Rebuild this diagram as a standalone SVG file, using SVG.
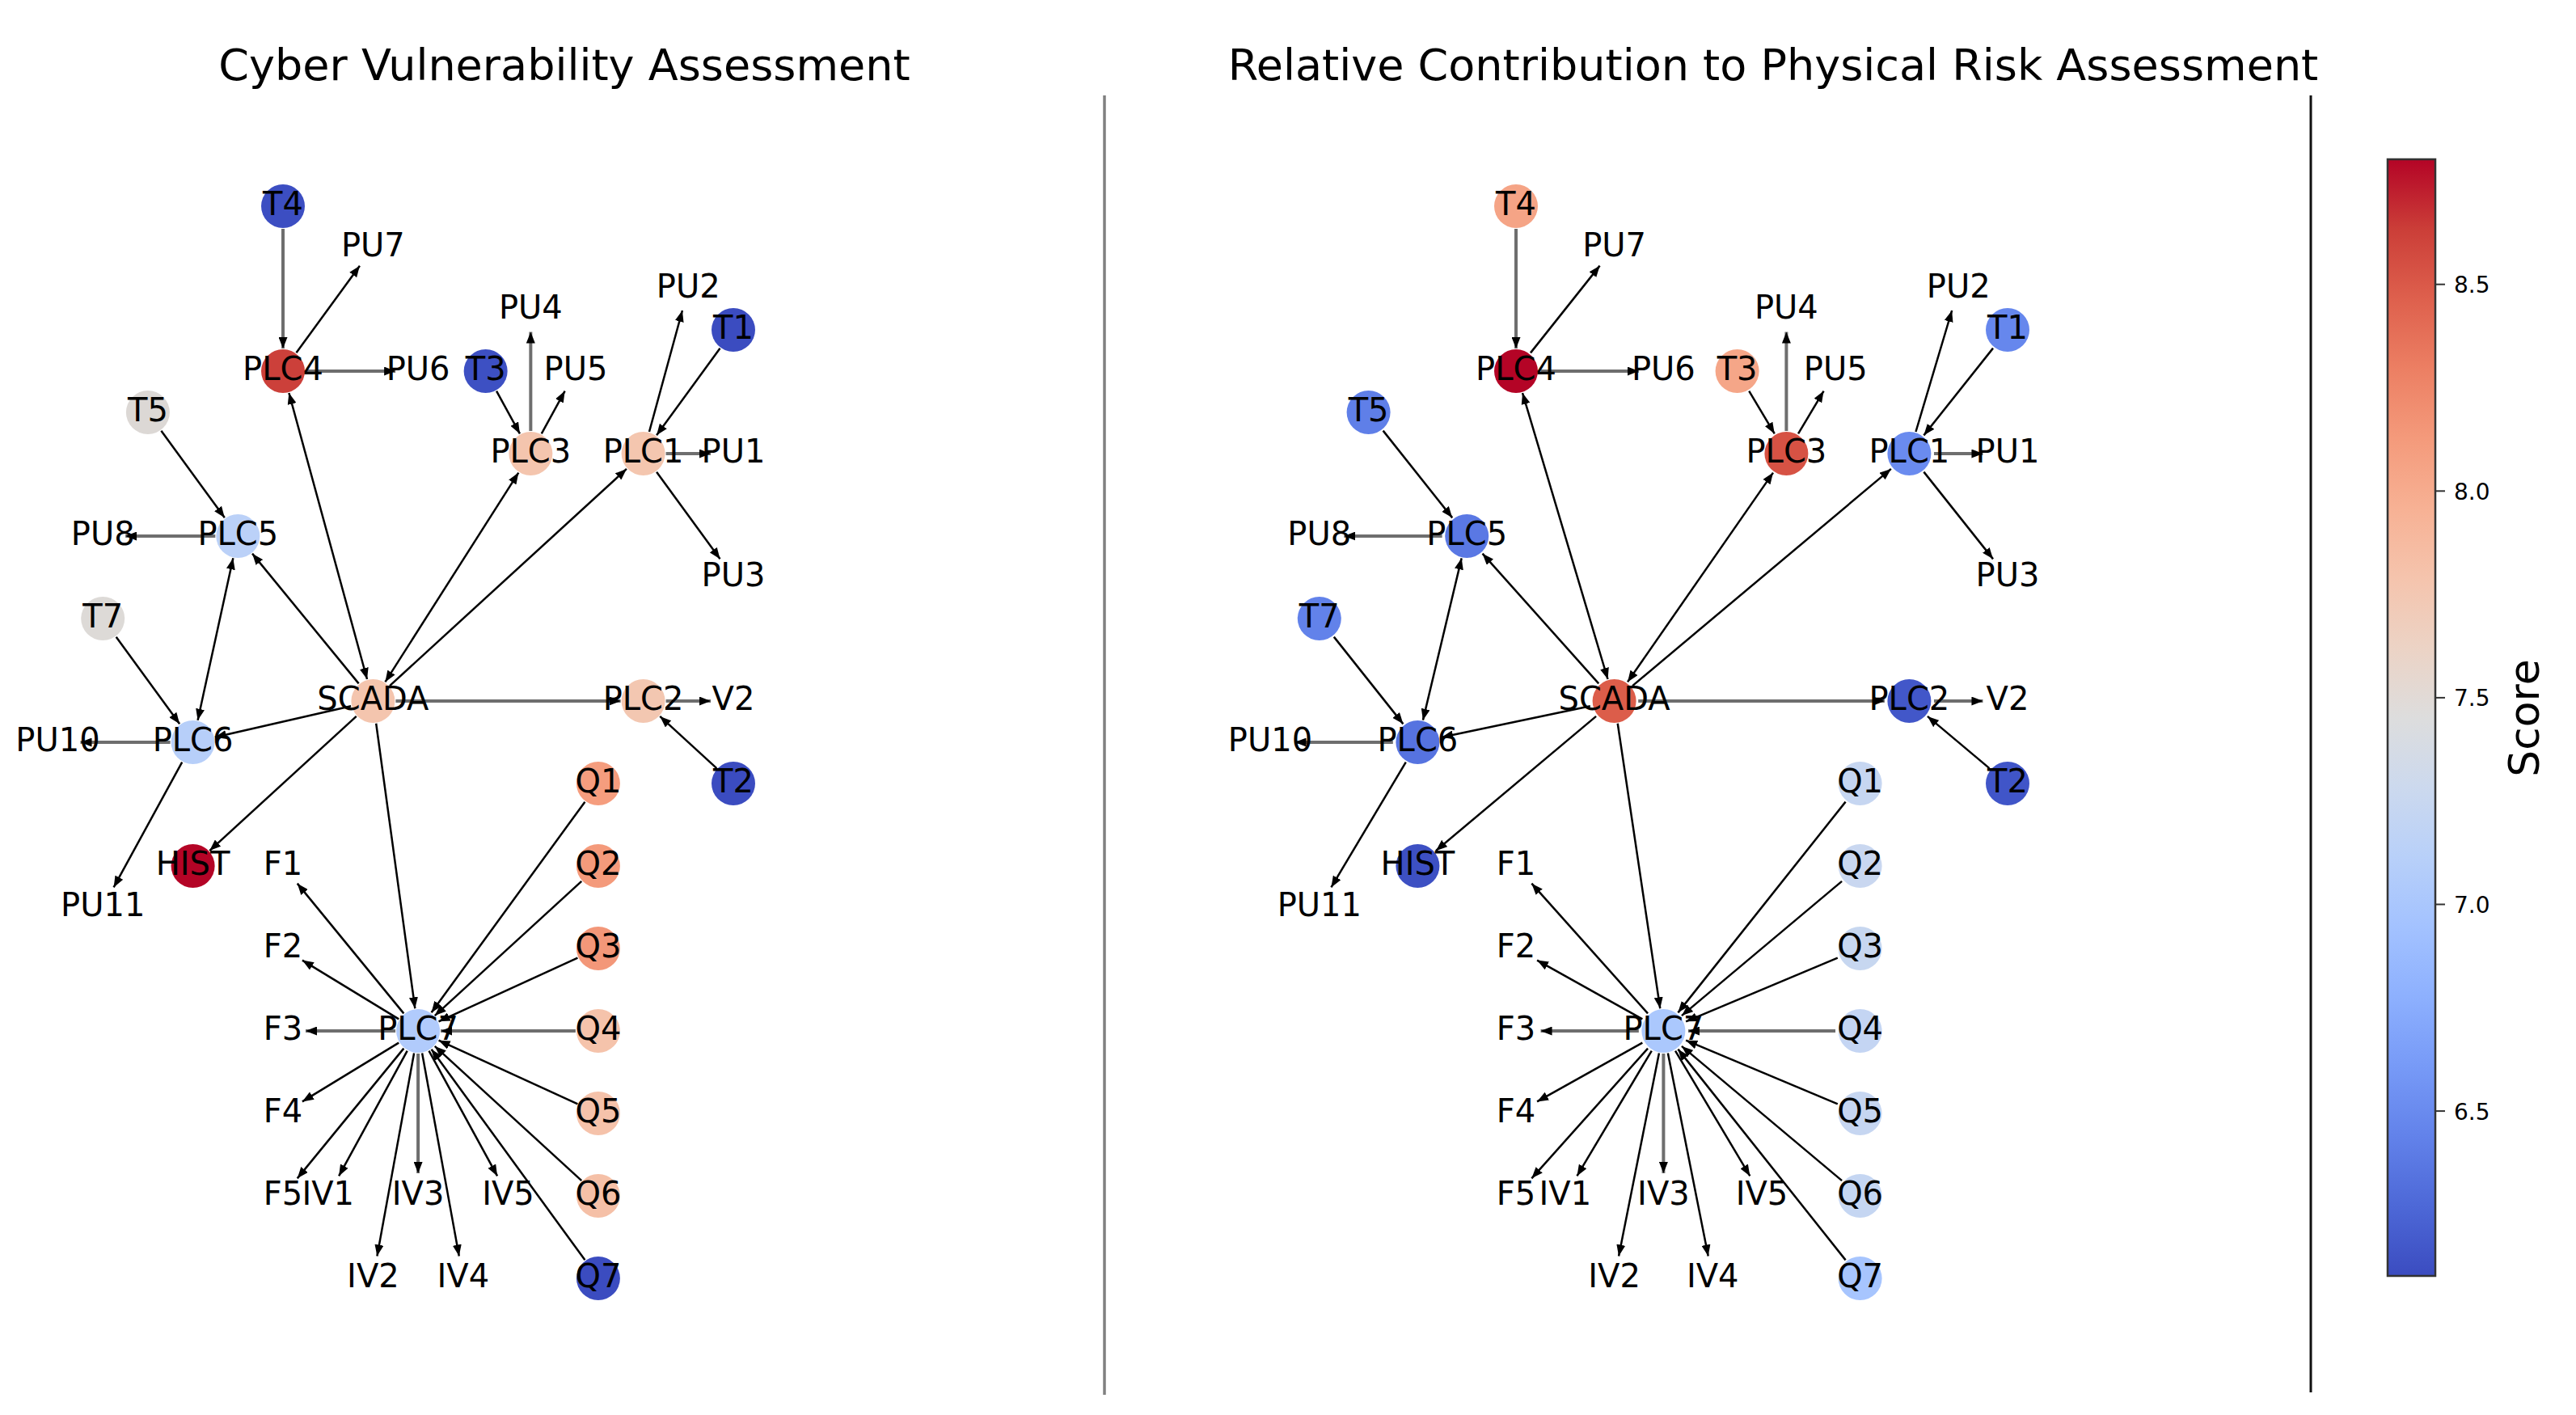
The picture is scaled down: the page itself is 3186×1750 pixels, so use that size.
<svg xmlns="http://www.w3.org/2000/svg" width="3186" height="1750" viewBox="0 0 3186 1750">
<style>
.lbl{font-family:"DejaVu Sans","Liberation Sans",sans-serif;font-size:40px;text-anchor:middle;fill:#000}
.ttl{font-family:"DejaVu Sans","Liberation Sans",sans-serif;font-size:54px;text-anchor:middle;fill:#000}
.tick{font-family:"DejaVu Sans","Liberation Sans",sans-serif;font-size:28px;fill:#000}
.e{stroke:#000;stroke-width:2.5;fill:none;marker-end:url(#ah)}
.hv{stroke:#6e6e6e;stroke-width:4}
.bi{marker-start:url(#ah)}
</style>
<defs>
<marker id="ah" viewBox="0 0 14 11" refX="14" refY="5.5" markerWidth="14" markerHeight="11" markerUnits="userSpaceOnUse" orient="auto-start-reverse">
<path d="M0,0 L14,5.5 L0,11 Z" fill="#000"/>
</marker>
<linearGradient id="cw" x1="0" y1="1" x2="0" y2="0">
<stop offset="0" stop-color="#3b4cc0"/>
<stop offset="0.0625" stop-color="#4d68d7"/>
<stop offset="0.125" stop-color="#6282ea"/>
<stop offset="0.1875" stop-color="#779af7"/>
<stop offset="0.25" stop-color="#8db0fe"/>
<stop offset="0.3125" stop-color="#a3c2ff"/>
<stop offset="0.375" stop-color="#b8d0f9"/>
<stop offset="0.4375" stop-color="#ccd9ee"/>
<stop offset="0.5" stop-color="#dddddd"/>
<stop offset="0.5625" stop-color="#ecd3c5"/>
<stop offset="0.625" stop-color="#f5c4ad"/>
<stop offset="0.6875" stop-color="#f7b194"/>
<stop offset="0.75" stop-color="#f49a7b"/>
<stop offset="0.8125" stop-color="#ec7f63"/>
<stop offset="0.875" stop-color="#de604d"/>
<stop offset="0.9375" stop-color="#cb3e38"/>
<stop offset="1" stop-color="#b40426"/>
</linearGradient>
</defs>
<rect width="3186" height="1750" fill="#fff"/>

<text class="ttl" x="698" y="99">Cyber Vulnerability Assessment</text>
<text class="ttl" x="2193" y="99">Relative Contribution to Physical Risk Assessment</text>
<line x1="1366" y1="118" x2="1366" y2="1725" stroke="#808080" stroke-width="3.5"/>
<line x1="2858" y1="118" x2="2858" y2="1722" stroke="#111" stroke-width="3"/>

<!-- LEFT connectors -->
<g id="edges-left">
<line class="e hv" x1="350" y1="283" x2="350" y2="431"/>
<line class="e" x1="366.48" y1="436.36" x2="444.92" y2="328.64"/>
<line class="e hv" x1="378" y1="459" x2="489.1" y2="459"/>
<line class="e" x1="614.07" y1="483.57" x2="642.93" y2="536.43"/>
<line class="e hv" x1="656.35" y1="533" x2="656.35" y2="410.5"/>
<line class="e" x1="669.77" y1="536.43" x2="698.63" y2="483.57"/>
<line class="e" x1="802.98" y1="533.99" x2="843.93" y2="384.01"/>
<line class="e" x1="890.52" y1="430.64" x2="812.08" y2="538.36"/>
<line class="e hv" x1="823.6" y1="561" x2="879" y2="561"/>
<line class="e" x1="812.08" y1="583.64" x2="890.52" y2="691.36"/>
<line class="e" x1="199.38" y1="532.64" x2="277.82" y2="640.36"/>
<line class="e hv" x1="266.3" y1="663" x2="155.2" y2="663"/>
<line class="e bi" x1="288.33" y1="690.35" x2="244.58" y2="890.65"/>
<line class="e" x1="143.68" y1="787.64" x2="222.12" y2="895.36"/>
<line class="e" x1="443.66" y1="845.34" x2="312.04" y2="684.66"/>
<line class="e bi" x1="454.02" y1="839.99" x2="357.38" y2="486.01"/>
<line class="e bi" x1="476.45" y1="843.39" x2="641.31" y2="584.62"/>
<line class="e" x1="482.05" y1="848.09" x2="774.95" y2="579.91"/>
<line class="e hv" x1="489.4" y1="867" x2="767.6" y2="867"/>
<line class="e hv" x1="823.6" y1="867" x2="879" y2="867"/>
<line class="e" x1="886.35" y1="950.09" x2="816.25" y2="885.91"/>
<line class="e" x1="434.11" y1="873.25" x2="265.89" y2="911.75"/>
<line class="e hv" x1="210.6" y1="918" x2="99.5" y2="918"/>
<line class="e" x1="225.18" y1="942.57" x2="140.62" y2="1097.43"/>
<line class="e" x1="440.75" y1="885.91" x2="259.25" y2="1052.09"/>
<line class="e" x1="465.19" y1="894.74" x2="513.31" y2="1247.26"/>
<line class="e" x1="499.36" y1="1253.34" x2="367.74" y2="1092.66"/>
<line class="e" x1="493.2" y1="1260.41" x2="373.9" y2="1187.59"/>
<line class="e hv" x1="489.1" y1="1275" x2="378" y2="1275"/>
<line class="e" x1="493.2" y1="1289.59" x2="373.9" y2="1362.41"/>
<line class="e" x1="499.36" y1="1296.66" x2="367.74" y2="1457.34"/>
<line class="e" x1="503.68" y1="1299.57" x2="419.12" y2="1454.43"/>
<line class="e" x1="512.09" y1="1302.55" x2="466.41" y2="1553.45"/>
<line class="e hv" x1="517.1" y1="1303" x2="517.1" y2="1451"/>
<line class="e" x1="522.11" y1="1302.55" x2="567.79" y2="1553.45"/>
<line class="e" x1="530.52" y1="1299.57" x2="615.08" y2="1454.43"/>
<line class="e" x1="723.42" y1="991.64" x2="533.58" y2="1252.36"/>
<line class="e" x1="719.25" y1="1089.91" x2="537.75" y2="1256.09"/>
<line class="e" x1="714.44" y1="1184.66" x2="542.56" y2="1263.34"/>
<line class="e hv" x1="711.9" y1="1275" x2="545.1" y2="1275"/>
<line class="e" x1="714.44" y1="1365.34" x2="542.56" y2="1286.66"/>
<line class="e" x1="719.25" y1="1460.09" x2="537.75" y2="1293.91"/>
<line class="e" x1="723.42" y1="1558.36" x2="533.58" y2="1297.64"/>
</g>

<!-- RIGHT connectors -->
<g id="edges-right">
<line class="e hv" x1="1875" y1="283" x2="1875" y2="431"/>
<line class="e" x1="1892.99" y1="436.36" x2="1978.61" y2="328.64"/>
<line class="e hv" x1="1905.56" y1="459" x2="2026.83" y2="459"/>
<line class="e" x1="2163.24" y1="483.57" x2="2194.75" y2="536.43"/>
<line class="e hv" x1="2209.4" y1="533" x2="2209.4" y2="410.5"/>
<line class="e" x1="2224.05" y1="536.43" x2="2255.55" y2="483.57"/>
<line class="e" x1="2369.45" y1="533.99" x2="2414.15" y2="384.01"/>
<line class="e" x1="2465.01" y1="430.64" x2="2379.38" y2="538.36"/>
<line class="e hv" x1="2391.96" y1="561" x2="2452.43" y2="561"/>
<line class="e" x1="2379.38" y1="583.64" x2="2465.01" y2="691.36"/>
<line class="e" x1="1710.59" y1="532.64" x2="1796.21" y2="640.36"/>
<line class="e hv" x1="1783.63" y1="663" x2="1662.36" y2="663"/>
<line class="e bi" x1="1807.68" y1="690.35" x2="1759.92" y2="890.65"/>
<line class="e" x1="1649.79" y1="787.64" x2="1735.41" y2="895.36"/>
<line class="e" x1="1977.23" y1="845.34" x2="1833.56" y2="684.66"/>
<line class="e bi" x1="1988.53" y1="839.99" x2="1883.05" y2="486.01"/>
<line class="e bi" x1="2013.02" y1="843.39" x2="2192.98" y2="584.62"/>
<line class="e" x1="2019.14" y1="848.09" x2="2338.85" y2="579.91"/>
<line class="e hv" x1="2026.18" y1="867" x2="2330.83" y2="867"/>
<line class="e hv" x1="2391.96" y1="867" x2="2452.43" y2="867"/>
<line class="e" x1="2460.46" y1="950.09" x2="2383.93" y2="885.91"/>
<line class="e" x1="1966.81" y1="873.25" x2="1783.19" y2="911.75"/>
<line class="e hv" x1="1722.83" y1="918" x2="1601.56" y2="918"/>
<line class="e" x1="1738.75" y1="942.57" x2="1646.44" y2="1097.43"/>
<line class="e" x1="1974.06" y1="885.91" x2="1775.94" y2="1052.09"/>
<line class="e" x1="2000.73" y1="894.74" x2="2053.26" y2="1247.26"/>
<line class="e" x1="2038.03" y1="1253.34" x2="1894.36" y2="1092.66"/>
<line class="e" x1="2031.31" y1="1260.41" x2="1901.09" y2="1187.59"/>
<line class="e hv" x1="2026.83" y1="1275" x2="1905.56" y2="1275"/>
<line class="e" x1="2031.31" y1="1289.59" x2="1901.09" y2="1362.41"/>
<line class="e" x1="2038.03" y1="1296.66" x2="1894.36" y2="1457.34"/>
<line class="e" x1="2042.75" y1="1299.57" x2="1950.45" y2="1454.43"/>
<line class="e" x1="2051.93" y1="1302.55" x2="2002.06" y2="1553.45"/>
<line class="e hv" x1="2057.4" y1="1303" x2="2057.4" y2="1451"/>
<line class="e" x1="2062.86" y1="1302.55" x2="2112.73" y2="1553.45"/>
<line class="e" x1="2072.04" y1="1299.57" x2="2164.34" y2="1454.43"/>
<line class="e" x1="2282.61" y1="991.64" x2="2075.39" y2="1252.36"/>
<line class="e" x1="2278.05" y1="1089.91" x2="2079.94" y2="1256.09"/>
<line class="e" x1="2272.8" y1="1184.66" x2="2085.19" y2="1263.34"/>
<line class="e hv" x1="2270.03" y1="1275" x2="2087.96" y2="1275"/>
<line class="e" x1="2272.8" y1="1365.34" x2="2085.19" y2="1286.66"/>
<line class="e" x1="2278.05" y1="1460.09" x2="2079.94" y2="1293.91"/>
<line class="e" x1="2282.61" y1="1558.36" x2="2075.39" y2="1297.64"/>
</g>

<!-- LEFT nodes -->
<g id="L-T4"><circle cx="350" cy="255" r="27" fill="#3c4ec2"/><text class="lbl" x="350" y="266">T4</text></g>
<g id="L-PU7"><text class="lbl" x="461.4" y="317">PU7</text></g>
<g id="L-PU2"><text class="lbl" x="851.3" y="368">PU2</text></g>
<g id="L-PU4"><text class="lbl" x="656.35" y="393.5">PU4</text></g>
<g id="L-T1"><circle cx="907" cy="408" r="27" fill="#3b4cc0"/><text class="lbl" x="907" y="419">T1</text></g>
<g id="L-PLC4"><circle cx="350" cy="459" r="27" fill="#cc403a"/><text class="lbl" x="350" y="470">PLC4</text></g>
<g id="L-PU6"><text class="lbl" x="517.1" y="470">PU6</text></g>
<g id="L-T3"><circle cx="600.65" cy="459" r="27" fill="#3d50c3"/><text class="lbl" x="600.65" y="470">T3</text></g>
<g id="L-PU5"><text class="lbl" x="712.05" y="470">PU5</text></g>
<g id="L-T5"><circle cx="182.9" cy="510" r="27" fill="#dcd8d5"/><text class="lbl" x="182.9" y="521">T5</text></g>
<g id="L-PLC3"><circle cx="656.35" cy="561" r="27" fill="#f4c5ae"/><text class="lbl" x="656.35" y="572">PLC3</text></g>
<g id="L-PLC1"><circle cx="795.6" cy="561" r="27" fill="#f4c6af"/><text class="lbl" x="795.6" y="572">PLC1</text></g>
<g id="L-PU1"><text class="lbl" x="907" y="572">PU1</text></g>
<g id="L-PLC5"><circle cx="294.3" cy="663" r="27" fill="#bbd1f8"/><text class="lbl" x="294.3" y="674">PLC5</text></g>
<g id="L-PU8"><text class="lbl" x="127.2" y="674">PU8</text></g>
<g id="L-PU3"><text class="lbl" x="907" y="725">PU3</text></g>
<g id="L-T7"><circle cx="127.2" cy="765" r="27" fill="#dddad7"/><text class="lbl" x="127.2" y="776">T7</text></g>
<g id="L-SCADA"><circle cx="461.4" cy="867" r="27" fill="#f4c5ae"/><text class="lbl" x="461.4" y="878">SCADA</text></g>
<g id="L-PLC2"><circle cx="795.6" cy="867" r="27" fill="#f3c7b1"/><text class="lbl" x="795.6" y="878">PLC2</text></g>
<g id="L-V2"><text class="lbl" x="907" y="878">V2</text></g>
<g id="L-PLC6"><circle cx="238.6" cy="918" r="27" fill="#b7cff9"/><text class="lbl" x="238.6" y="929">PLC6</text></g>
<g id="L-PU10"><text class="lbl" x="71.5" y="929">PU10</text></g>
<g id="L-T2"><circle cx="907" cy="969" r="27" fill="#3b4cc0"/><text class="lbl" x="907" y="980">T2</text></g>
<g id="L-Q1"><circle cx="739.9" cy="969" r="27" fill="#f59d7e"/><text class="lbl" x="739.9" y="980">Q1</text></g>
<g id="L-HIST"><circle cx="238.6" cy="1071" r="27" fill="#b40426"/><text class="lbl" x="238.6" y="1082">HIST</text></g>
<g id="L-F1"><text class="lbl" x="350" y="1082">F1</text></g>
<g id="L-PU11"><text class="lbl" x="127.2" y="1133">PU11</text></g>
<g id="L-Q2"><circle cx="739.9" cy="1071" r="27" fill="#f49a7b"/><text class="lbl" x="739.9" y="1082">Q2</text></g>
<g id="L-F2"><text class="lbl" x="350" y="1184">F2</text></g>
<g id="L-Q3"><circle cx="739.9" cy="1173" r="27" fill="#f39779"/><text class="lbl" x="739.9" y="1184">Q3</text></g>
<g id="L-F3"><text class="lbl" x="350" y="1286">F3</text></g>
<g id="L-PLC7"><circle cx="517.1" cy="1275" r="27" fill="#b1cbfc"/><text class="lbl" x="517.1" y="1286">PLC7</text></g>
<g id="L-Q4"><circle cx="739.9" cy="1275" r="27" fill="#f5c3ab"/><text class="lbl" x="739.9" y="1286">Q4</text></g>
<g id="L-F4"><text class="lbl" x="350" y="1388">F4</text></g>
<g id="L-Q5"><circle cx="739.9" cy="1377" r="27" fill="#f5c2aa"/><text class="lbl" x="739.9" y="1388">Q5</text></g>
<g id="L-F5"><text class="lbl" x="350" y="1490">F5</text></g>
<g id="L-IV1"><text class="lbl" x="405.7" y="1490">IV1</text></g>
<g id="L-IV3"><text class="lbl" x="517.1" y="1490">IV3</text></g>
<g id="L-IV5"><text class="lbl" x="628.5" y="1490">IV5</text></g>
<g id="L-Q6"><circle cx="739.9" cy="1479" r="27" fill="#f5c0a7"/><text class="lbl" x="739.9" y="1490">Q6</text></g>
<g id="L-IV2"><text class="lbl" x="461.4" y="1592">IV2</text></g>
<g id="L-IV4"><text class="lbl" x="572.8" y="1592">IV4</text></g>
<g id="L-Q7"><circle cx="739.9" cy="1581" r="27" fill="#3b4cc0"/><text class="lbl" x="739.9" y="1592">Q7</text></g>

<!-- RIGHT nodes -->
<g id="R-T4"><circle cx="1875" cy="255" r="27" fill="#f5a486"/><text class="lbl" x="1875" y="266">T4</text></g>
<g id="R-PU7"><text class="lbl" x="1996.6" y="317">PU7</text></g>
<g id="R-PU2"><text class="lbl" x="2422.2" y="368">PU2</text></g>
<g id="R-PU4"><text class="lbl" x="2209.4" y="393.5">PU4</text></g>
<g id="R-T1"><circle cx="2483" cy="408" r="27" fill="#6687ed"/><text class="lbl" x="2483" y="419">T1</text></g>
<g id="R-PLC4"><circle cx="1875" cy="459" r="27" fill="#b40426"/><text class="lbl" x="1875" y="470">PLC4</text></g>
<g id="R-PU6"><text class="lbl" x="2057.4" y="470">PU6</text></g>
<g id="R-T3"><circle cx="2148.6" cy="459" r="27" fill="#f5a688"/><text class="lbl" x="2148.6" y="470">T3</text></g>
<g id="R-PU5"><text class="lbl" x="2270.2" y="470">PU5</text></g>
<g id="R-T5"><circle cx="1692.6" cy="510" r="27" fill="#5f7fe8"/><text class="lbl" x="1692.6" y="521">T5</text></g>
<g id="R-PLC3"><circle cx="2209.4" cy="561" r="27" fill="#d65244"/><text class="lbl" x="2209.4" y="572">PLC3</text></g>
<g id="R-PLC1"><circle cx="2361.4" cy="561" r="27" fill="#6a8bef"/><text class="lbl" x="2361.4" y="572">PLC1</text></g>
<g id="R-PU1"><text class="lbl" x="2483" y="572">PU1</text></g>
<g id="R-PLC5"><circle cx="1814.2" cy="663" r="27" fill="#5a78e4"/><text class="lbl" x="1814.2" y="674">PLC5</text></g>
<g id="R-PU8"><text class="lbl" x="1631.8" y="674">PU8</text></g>
<g id="R-PU3"><text class="lbl" x="2483" y="725">PU3</text></g>
<g id="R-T7"><circle cx="1631.8" cy="765" r="27" fill="#6282ea"/><text class="lbl" x="1631.8" y="776">T7</text></g>
<g id="R-SCADA"><circle cx="1996.6" cy="867" r="27" fill="#dc5d4a"/><text class="lbl" x="1996.6" y="878">SCADA</text></g>
<g id="R-PLC2"><circle cx="2361.4" cy="867" r="27" fill="#4257c9"/><text class="lbl" x="2361.4" y="878">PLC2</text></g>
<g id="R-V2"><text class="lbl" x="2483" y="878">V2</text></g>
<g id="R-PLC6"><circle cx="1753.4" cy="918" r="27" fill="#5673e0"/><text class="lbl" x="1753.4" y="929">PLC6</text></g>
<g id="R-PU10"><text class="lbl" x="1571" y="929">PU10</text></g>
<g id="R-T2"><circle cx="2483" cy="969" r="27" fill="#4055c8"/><text class="lbl" x="2483" y="980">T2</text></g>
<g id="R-Q1"><circle cx="2300.6" cy="969" r="27" fill="#c6d6f1"/><text class="lbl" x="2300.6" y="980">Q1</text></g>
<g id="R-HIST"><circle cx="1753.4" cy="1071" r="27" fill="#3d50c3"/><text class="lbl" x="1753.4" y="1082">HIST</text></g>
<g id="R-F1"><text class="lbl" x="1875" y="1082">F1</text></g>
<g id="R-PU11"><text class="lbl" x="1631.8" y="1133">PU11</text></g>
<g id="R-Q2"><circle cx="2300.6" cy="1071" r="27" fill="#c9d7f0"/><text class="lbl" x="2300.6" y="1082">Q2</text></g>
<g id="R-F2"><text class="lbl" x="1875" y="1184">F2</text></g>
<g id="R-Q3"><circle cx="2300.6" cy="1173" r="27" fill="#c7d7f0"/><text class="lbl" x="2300.6" y="1184">Q3</text></g>
<g id="R-F3"><text class="lbl" x="1875" y="1286">F3</text></g>
<g id="R-PLC7"><circle cx="2057.4" cy="1275" r="27" fill="#abc8fd"/><text class="lbl" x="2057.4" y="1286">PLC7</text></g>
<g id="R-Q4"><circle cx="2300.6" cy="1275" r="27" fill="#c4d5f3"/><text class="lbl" x="2300.6" y="1286">Q4</text></g>
<g id="R-F4"><text class="lbl" x="1875" y="1388">F4</text></g>
<g id="R-Q5"><circle cx="2300.6" cy="1377" r="27" fill="#c6d6f1"/><text class="lbl" x="2300.6" y="1388">Q5</text></g>
<g id="R-F5"><text class="lbl" x="1875" y="1490">F5</text></g>
<g id="R-IV1"><text class="lbl" x="1935.8" y="1490">IV1</text></g>
<g id="R-IV3"><text class="lbl" x="2057.4" y="1490">IV3</text></g>
<g id="R-IV5"><text class="lbl" x="2179" y="1490">IV5</text></g>
<g id="R-Q6"><circle cx="2300.6" cy="1479" r="27" fill="#c5d6f2"/><text class="lbl" x="2300.6" y="1490">Q6</text></g>
<g id="R-IV2"><text class="lbl" x="1996.6" y="1592">IV2</text></g>
<g id="R-IV4"><text class="lbl" x="2118.2" y="1592">IV4</text></g>
<g id="R-Q7"><circle cx="2300.6" cy="1581" r="27" fill="#a7c5fe"/><text class="lbl" x="2300.6" y="1592">Q7</text></g>

<!-- Colorbar -->
<g id="colorbar">
<rect x="2953" y="197" width="59" height="1381" fill="url(#cw)" stroke="#333" stroke-width="2.5"/>
<g stroke="#333" stroke-width="2">
<line x1="3012" y1="351.7" x2="3024" y2="351.7"/>
<line x1="3012" y1="607.3" x2="3024" y2="607.3"/>
<line x1="3012" y1="862.9" x2="3024" y2="862.9"/>
<line x1="3012" y1="1118.5" x2="3024" y2="1118.5"/>
<line x1="3012" y1="1374.1" x2="3024" y2="1374.1"/>
</g>
<text class="tick" x="3035" y="362">8.5</text>
<text class="tick" x="3035" y="618">8.0</text>
<text class="tick" x="3035" y="873">7.5</text>
<text class="tick" x="3035" y="1129">7.0</text>
<text class="tick" x="3035" y="1385">6.5</text>
<text transform="translate(3140,888) rotate(-90)" x="0" y="0" text-anchor="middle" font-family="DejaVu Sans, Liberation Sans, sans-serif" font-size="52">Score</text>
</g>
</svg>
